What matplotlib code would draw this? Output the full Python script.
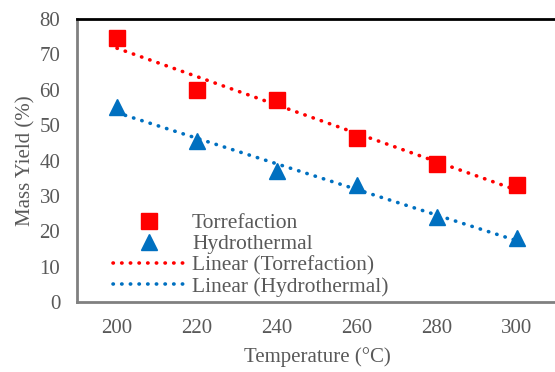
import matplotlib.pyplot as plt
import numpy as np

temperature = [200, 220, 240, 260, 280, 300]
torrefaction = [74.5, 60.0, 57.0, 46.5, 39.0, 33.0]
hydrothermal = [55.0, 45.5, 37.0, 33.0, 24.0, 18.0]

RED = "#FF0000"
BLUE = "#0070C0"
GRAY = "#595959"

plt.rcParams["font.family"] = ["Liberation Serif", "DejaVu Serif"]

fig = plt.figure(figsize=(5.55, 3.72), dpi=100)
ax = fig.add_axes([77 / 555, (372 - 302) / 372, 480 / 555, 283 / 372])

x = np.array(temperature)
ax.plot(x, torrefaction, "s", color=RED, markersize=11, label="Torrefaction", zorder=3)
ax.plot(x, hydrothermal, "^", color=BLUE, markersize=11, label="Hydrothermal", zorder=3)

# linear trendlines, as Excel does them
for y, c, name in [(torrefaction, RED, "Torrefaction"), (hydrothermal, BLUE, "Hydrothermal")]:
    k, b = np.polyfit(x, y, 1)
    ax.plot(x, k * x + b, color=c, linestyle=(0, (0.1, 2.3)), linewidth=2.6,
            dash_capstyle="round", label=f"Linear ({name})", zorder=2)

ax.set_xlim(190, 310)
ax.set_ylim(0, 80)
ax.set_xticks(temperature)
ax.set_yticks(range(0, 81, 10))
ax.tick_params(length=0, labelsize=15, labelcolor=GRAY)
ax.tick_params(axis="x", pad=12)
ax.tick_params(axis="y", pad=12)

ax.spines["top"].set_color("black")
ax.spines["top"].set_linewidth(2)
ax.spines["left"].set_color("#808080")
ax.spines["left"].set_linewidth(2)
ax.spines["bottom"].set_color("#808080")
ax.spines["bottom"].set_linewidth(2)
ax.spines["right"].set_visible(False)

ax.set_xlabel("Temperature (°C)", fontsize=15, color=GRAY, labelpad=7)
ax.set_ylabel("Mass Yield (%)", fontsize=15, color=GRAY, labelpad=3)

leg = ax.legend(loc="lower left", bbox_to_anchor=(0.058, -0.012), frameon=False,
                fontsize=15.5, labelspacing=0.05, handlelength=3.3, handletextpad=0.35,
                borderaxespad=0)
for t in leg.get_texts():
    t.set_color(GRAY)

fig.savefig("out.png", dpi=100)
plt.close()
